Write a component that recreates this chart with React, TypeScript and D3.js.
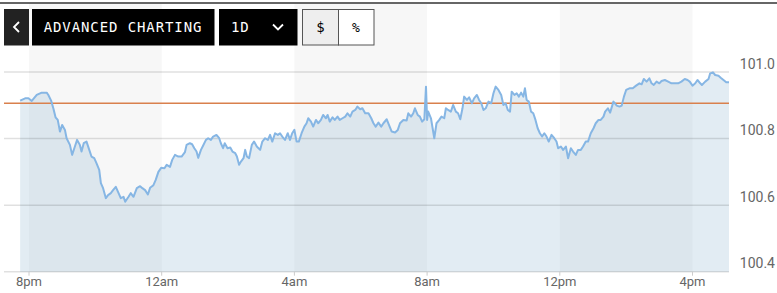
import React from "react";
import * as d3 from "d3";

// minutes after 8pm
const minutes = [-16,-7,-1,5,14,23,32,35,40,44,48,52,56,60,65,68,74,78,83,87,92,95,99,104,109,113,118,122,127,130,134,139,143,148,152,157,162,166,171,174,180,184,189,195,201,
205,210,215,219,225,229,234,239,245,249,255,259,264,270,276,282,285,291,295,299,303,306,311,315,320,324,329,333,339,344,347,351,354,359,364,368,373,376,380,383,388,391,394,398,403,407,412,418,
422,427,432,436,440,445,450,454,458,463,468,472,476,480,484,488,493,498,502,505,510,514,519,523,528,532,537,540,544,549,553,558,562,567,572,576,581,585,590,594,599,603,608,614,619,623,627,
632,637,641,647,651,656,662,667,671,677,683,686,691,695,698,703,707,711,715,718,720,722,727,733,737,742,746,751,754,758,763,767,772,776,780,784,787,792,796,801,805,810,814,818,822,826,831,836,840,844,849,
854,858,862,866,870,873,878,882,886,890,894,897,900,904,908,912,916,920,924,928,932,936,940,945,950,954,957,962,966,971,975,980,984,989,993,998,1002,1007,1011,1016,1021,1025,1030,1034,1039,1042,1047,1051,
1057,1063,1068,1072,1076,1080,1086,1092,1098,1104,1108,1112,1117,1122,1126,1130,1135,1140,1144,1150,1156,1162,1168,1174,1180,1186,1191,1195,1200,1205,1209,1214,1217,1223,1229,1232,1237,1241,1247,1251,1256,1261,1266];

const prices = [100.914,100.921,100.921,100.913,100.931,100.938,100.938,100.931,100.914,100.891,100.864,100.856,100.821,100.841,100.826,100.801,100.781,100.751,100.776,100.796,100.781,100.761,100.786,100.791,100.766,100.746,100.741,100.726,100.706,100.666,100.651,100.621,100.630,100.636,100.645,100.655,100.636,100.621,100.625,100.610,100.625,100.636,100.625,100.651,100.657,
100.651,100.645,100.632,100.652,100.660,100.675,100.700,100.712,100.711,100.721,100.715,100.736,100.751,100.746,100.746,100.759,100.781,100.786,100.783,100.771,100.761,100.742,100.766,100.779,100.796,100.801,100.796,100.806,100.811,100.801,100.786,100.771,100.786,100.771,100.773,100.761,100.756,100.746,100.721,100.730,100.741,100.766,100.746,100.741,100.781,100.791,100.776,100.766,
100.791,100.801,100.796,100.811,100.791,100.816,100.811,100.816,100.806,100.796,100.816,100.796,100.816,100.826,100.791,100.791,100.816,100.836,100.846,100.861,100.851,100.836,100.856,100.846,100.856,100.871,100.861,100.871,100.851,100.864,100.856,100.866,100.856,100.861,100.866,100.876,100.866,100.881,100.886,100.896,100.888,100.891,100.876,100.876,100.861,100.846,100.836,
100.848,100.836,100.846,100.858,100.841,100.821,100.818,100.826,100.846,100.856,100.854,100.876,100.866,100.876,100.891,100.871,100.866,100.851,100.858,100.956,100.856,100.881,100.861,100.801,100.846,100.856,100.866,100.861,100.891,100.886,100.881,100.901,100.881,100.876,100.858,100.891,100.926,100.916,100.924,100.906,100.921,100.931,100.916,100.906,100.886,100.891,100.911,100.906,100.936,100.956,100.946,
100.931,100.901,100.906,100.886,100.881,100.941,100.931,100.936,100.926,100.938,100.926,100.951,100.916,100.911,100.881,100.876,100.856,100.831,100.816,100.806,100.816,100.806,100.791,100.811,100.801,100.791,100.771,100.776,100.766,100.776,100.741,100.771,100.761,100.751,100.766,100.766,100.776,100.791,100.791,100.816,100.831,100.846,100.856,100.856,100.866,100.881,100.891,100.878,
100.911,100.899,100.896,100.899,100.926,100.946,100.951,100.951,100.959,100.966,100.963,100.979,100.971,100.981,100.966,100.961,100.971,100.966,100.973,100.976,100.971,100.966,100.966,100.966,100.971,100.979,100.976,100.971,100.959,100.966,100.976,100.966,100.961,100.971,100.979,100.996,100.999,100.991,100.989,100.983,100.976,100.969,100.969];

const previousClose = 100.906;
const yTicks = [100.4, 100.6, 100.8, 101.0];
const xTickMinutes = [0, 240, 480, 720, 960, 1200];
const bandRanges = [[0, 240], [480, 720], [960, 1200]];

const base = new Date(2024, 0, 1, 20, 0, 0);
const toDate = (m: number) => new Date(base.getTime() + m * 60000);

export default function App() {
  const W = 777, H = 293;
  const x = d3.scaleTime().domain([toDate(0), toDate(1200)]).range([29, 692.5]);
  const y = d3.scaleLinear().domain([100.4, 101.0]).range([271.7, 72]);
  const pts = minutes.map((m, i) => ({ d: toDate(m), v: prices[i] }));
  const line = d3.line<{ d: Date; v: number }>().x(p => x(p.d)).y(p => y(p.v));
  const area = d3.area<{ d: Date; v: number }>().x(p => x(p.d)).y0(y(100.4)).y1(p => y(p.v));
  const fmt = d3.timeFormat("%-I%p");
  const plotLeft = 4, plotRight = x(toDate(minutes[minutes.length - 1]));
  const mono = "'DejaVu Sans Mono', monospace";
  const sans = "Roboto, 'Liberation Sans', Arial, sans-serif";

  return (
    <svg width={W} height={H} style={{ position: "absolute", left: 0, top: 0, background: "#fff" }}>
      {bandRanges.map(([a, b], i) => (
        <rect key={i} x={x(toDate(a))} y={4} width={x(toDate(b)) - x(toDate(a))} height={y(100.4) - 4} fill="#f7f7f7" />
      ))}
      <path d={area(pts) || ""} fill="rgba(150,185,212,0.28)" />
      {yTicks.map(t => (
        <line key={t} x1={plotLeft} x2={plotRight} y1={y(t)} y2={y(t)} stroke="rgba(0,0,0,0.12)" strokeWidth={1.5} />
      ))}
      <line x1={plotLeft} x2={plotRight} y1={y(previousClose)} y2={y(previousClose)} stroke="#d9804d" strokeWidth={1.5} />
      <path d={line(pts) || ""} fill="none" stroke="#86b6e4" strokeWidth={2} strokeLinejoin="round" />
      {xTickMinutes.map(m => (
        <g key={m}>
          <line x1={x(toDate(m))} x2={x(toDate(m))} y1={y(100.4)} y2={y(100.4) + 4} stroke="#ccc" strokeWidth={1} />
          <text x={x(toDate(m))} y={286} textAnchor="middle" fontFamily={sans} fontSize={13} fill="#666">
            {fmt(toDate(m)).toLowerCase()}
          </text>
        </g>
      ))}
      {yTicks.map(t => (
        <text key={t} x={775} y={y(t) - 3.5} textAnchor="end" fontFamily={sans} fontSize={14} fill="#666">
          {t.toFixed(1)}
        </text>
      ))}
      <line x1={0} x2={W} y1={3} y2={3} stroke="#333" strokeWidth={1.5} />
      {/* toolbar */}
      <rect x={4} y={9} width={25} height={36.5} fill="#222" />
      <path d="M19,22 L14,27 L19,32" fill="none" stroke="#fff" strokeWidth={1.8} />
      <rect x={32} y={9} width={182.5} height={36.5} fill="#000" />
      <text x={123} y={32} textAnchor="middle" fontFamily={mono} fontSize={14} letterSpacing={0.9} fill="#fff">ADVANCED CHARTING</text>
      <rect x={219} y={9} width={78.5} height={36.5} fill="#000" />
      <text x={231} y={32} fontFamily={mono} fontSize={14} letterSpacing={0.9} fill="#fff">1D</text>
      <path d="M273,24.5 L278,29.5 L283,24.5" fill="none" stroke="#fff" strokeWidth={1.8} />
      <rect x={302.5} y={9.5} width={36} height={35.5} fill="#eee" stroke="#555" strokeWidth={1} />
      <rect x={338.5} y={9.5} width={35.5} height={35.5} fill="#fff" stroke="#555" strokeWidth={1} />
      <text x={320.5} y={32} textAnchor="middle" fontFamily={mono} fontSize={14} fill="#000">$</text>
      <text x={356} y={32} textAnchor="middle" fontFamily={mono} fontSize={13} fill="#000">%</text>
    </svg>
  );
}
